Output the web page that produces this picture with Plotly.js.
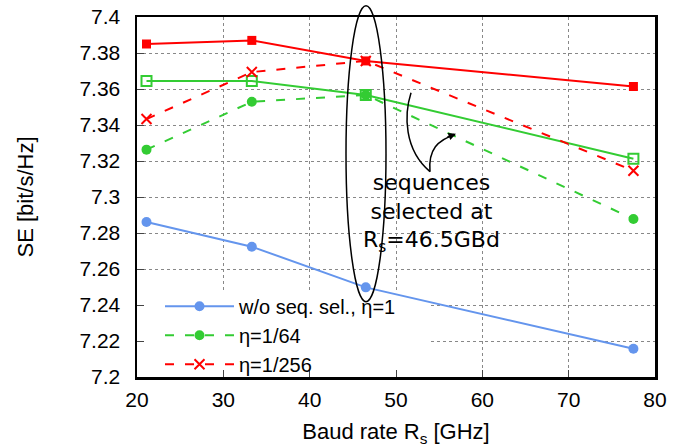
<!DOCTYPE html>
<html>
<head>
<meta charset="utf-8">
<script src="https://cdn.plot.ly/plotly-3.0.1.min.js"></script>
<style>html,body{margin:0;padding:0;background:#fff}#chart{width:673px;height:447px}</style>
</head>
<body>
<div id="chart"></div>
<script>
// Data
const baudRate = [21.1, 33.3, 46.5, 77.5];
const seNoSel = [7.2861, 7.2724, 7.2498, 7.2157];
const seEta64 = [7.3263, 7.3529, 7.3567, 7.2878];
const seEta256 = [7.3433, 7.3694, 7.3756, 7.3146];
const seEta64Sel = [7.3644, 7.3644, 7.3567, 7.3213];
const seEta256Sel = [7.3850, 7.3870, 7.3756, 7.3614];
const yTickVals = [7.2, 7.22, 7.24, 7.26, 7.28, 7.3, 7.32, 7.34, 7.36, 7.38, 7.4];
const yTickText = ['7.2', '7.22', '7.24', '7.26', '7.28', '7.3', '7.32', '7.34', '7.36', '7.38', '7.4'];
const xTickVals = [20, 30, 40, 50, 60, 70, 80];

const RED = '#ff0000', GREEN = '#33cc33', BLUE = '#6495ed';

const traces = [
  {x: baudRate, y: seEta256Sel, mode: 'lines+markers', showlegend: false,
   line: {color: RED, width: 2}, marker: {symbol: 'square', size: 9, color: RED}},
  {x: baudRate, y: seEta64Sel, mode: 'lines+markers', showlegend: false,
   line: {color: GREEN, width: 2}, marker: {symbol: 'square-open', size: 10, color: GREEN, line: {width: 2, color: GREEN}}},
  {x: baudRate, y: seNoSel, mode: 'lines+markers', name: 'w/o seq. sel., η=1',
   line: {color: BLUE, width: 2}, marker: {symbol: 'circle', size: 10, color: BLUE}},
  {x: baudRate, y: seEta64, mode: 'lines+markers', name: 'η=1/64',
   line: {color: GREEN, width: 2, dash: '9px,11px'}, marker: {symbol: 'circle', size: 10, color: GREEN}},
  {x: baudRate, y: seEta256, mode: 'lines+markers', name: 'η=1/256',
   line: {color: RED, width: 2, dash: '9px,11px'}, marker: {symbol: 'x-thin-open', size: 10, color: RED, line: {width: 2, color: RED}}}
];

// plot-area pixel helpers for annotation placement
const L = 137, R = 655, T = 17.3, B = 377.3;
const X0 = 20, X1 = 80, Y0 = 7.2, Y1 = 7.4;
const px = v => (v - L) / (R - L);
const py = v => (B - v) / (B - T);
const dx = v => X0 + (v - L) / (R - L) * (X1 - X0);
const dy = v => Y0 + (B - v) / (B - T) * (Y1 - Y0);
const P = (x, y) => px(x).toFixed(4) + ',' + py(y).toFixed(4);

const layout = {
  width: 673, height: 447,
  margin: {l: L, r: 673 - R, t: T, b: 447 - B},
  paper_bgcolor: '#fff', plot_bgcolor: '#fff',
  font: {family: 'Liberation Sans, Arial, sans-serif', size: 21, color: '#000'},
  xaxis: {
    range: [X0, X1], tickvals: xTickVals, ticks: 'inside', ticklen: 7, tickwidth: 1,
    showline: true, linecolor: '#000', linewidth: 2.5, mirror: true,
    showgrid: true, gridcolor: '#888', griddash: 'dot', gridwidth: 1,
    zeroline: false, ticklabelstandoff: 2,
    title: {text: 'Baud rate R<sub>s</sub> [GHz]', standoff: 18, font: {size: 22}}
  },
  yaxis: {
    range: [Y0, Y1], tickvals: yTickVals, ticktext: yTickText, ticks: 'inside', ticklen: 7, tickwidth: 1,
    showline: true, linecolor: '#000', linewidth: 2.5, mirror: true,
    showgrid: true, gridcolor: '#888', griddash: 'dot', gridwidth: 1,
    zeroline: false, ticklabelstandoff: 10,
    title: {text: 'SE [bit/s/Hz]', standoff: 40, font: {size: 22}}
  },
  legend: {
    x: px(160), y: py(287), xanchor: 'left', yanchor: 'top', itemwidth: 69,
    bgcolor: 'rgba(0,0,0,0)', borderwidth: 0, font: {size: 20}, tracegroupgap: 0
  },
  shapes: [
    // white key box hiding the grid behind the legend
    {type: 'rect', xref: 'x', yref: 'y', layer: 'between', x0: dx(142), x1: dx(428), y0: dy(374), y1: dy(293),
     fillcolor: '#fff', line: {width: 0}},
    {type: 'circle', xref: 'paper', yref: 'paper', x0: px(346), x1: px(386), y0: py(302), y1: py(6),
     line: {color: '#000', width: 1.5}},
    {type: 'path', xref: 'paper', yref: 'paper', path: 'M' + P(430, 172) + ' C' + P(404, 150) + ' ' + P(404, 115) + ' ' + P(411, 93),
     line: {color: '#000', width: 1.5}},
    {type: 'path', xref: 'paper', yref: 'paper', path: 'M' + P(430, 172) + ' C' + P(428, 150) + ' ' + P(438, 140) + ' ' + P(455, 135),
     line: {color: '#000', width: 1.5}}
  ],
  annotations: [
    {xref: 'paper', yref: 'paper', x: px(431), y: py(213), text: 'sequences<br>selected at<br>R<sub>s</sub>=46.5GBd',
     showarrow: false, font: {family: 'DejaVu Sans, sans-serif', size: 22, color: '#000'}, align: 'center',
     xanchor: 'center', yanchor: 'middle', bgcolor: 'rgba(255,255,255,0)'},
    {xref: 'paper', yref: 'paper', x: px(411), y: py(90), text: ' ', showarrow: true,
     ax: 0, ay: 14, arrowhead: 2, arrowsize: 1, arrowwidth: 1.5, arrowcolor: '#000', standoff: 0},
    {xref: 'paper', yref: 'paper', x: px(456), y: py(134), text: ' ', showarrow: true,
     ax: -13, ay: 5, arrowhead: 2, arrowsize: 1, arrowwidth: 1.5, arrowcolor: '#000', standoff: 0}
  ]
};

Plotly.newPlot('chart', traces, layout, {displayModeBar: false, staticPlot: true});
</script>
</body>
</html>
